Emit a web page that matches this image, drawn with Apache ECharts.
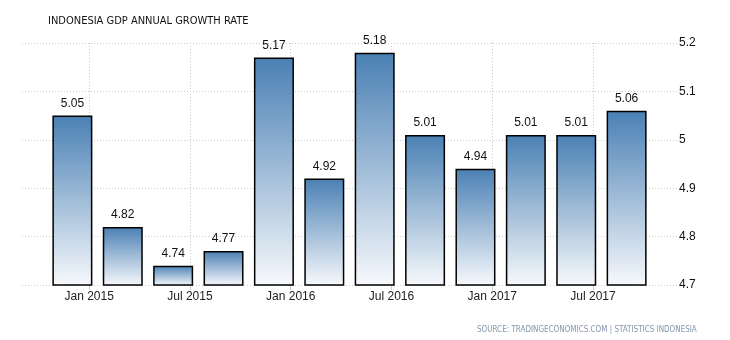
<!DOCTYPE html>
<html>
<head>
<meta charset="utf-8">
<script src="https://cdn.jsdelivr.net/npm/echarts@6/dist/echarts.min.js"></script>
<style>html,body{margin:0;padding:0;background:#fff;}#c{width:730px;height:340px;}</style>
</head>
<body>
<div id="c"></div>
<script>
const quarters = ['Q1 2015','Q2 2015','Q3 2015','Q4 2015','Q1 2016','Q2 2016','Q3 2016','Q4 2016','Q1 2017','Q2 2017','Q3 2017','Q4 2017'];
const values = [5.05, 4.82, 4.74, 4.77, 5.17, 4.92, 5.18, 5.01, 4.94, 5.01, 5.01, 5.06];
// month offset (relative to Jan 2015) at which each quarter's bar is plotted
const barMonths = [-1, 2, 5, 8, 11, 14, 17, 20, 23, 26, 29, 32];
const tickMonths = [0, 6, 12, 18, 24, 30];
const tickLabels = ['Jan 2015','Jul 2015','Jan 2016','Jul 2016','Jan 2017','Jul 2017'];

const chart = echarts.init(document.getElementById('c'), null, {renderer: 'canvas'});
const font = 'Liberation Sans';
chart.setOption({
  animation: false,
  backgroundColor: '#fff',
  title: [{
    text: 'INDONESIA GDP ANNUAL GROWTH RATE',
    left: 43, top: 11,
    textStyle: {fontFamily: 'DejaVu Sans Condensed', fontSize: 11, fontWeight: 'normal', color: '#111'}
  }, {
    text: 'SOURCE: TRADINGECONOMICS.COM | STATISTICS INDONESIA',
    left: 472, top: 321,
    textStyle: {fontFamily: 'DejaVu Sans Condensed', fontSize: 8, fontWeight: 'normal', color: '#8296ad'}
  }],
  grid: {left: 22, right: 53, top: 43, bottom: 55, containLabel: false},
  xAxis: {
    type: 'value', min: -4, max: 35,
    axisLine: {show: false},
    axisTick: {show: true, customValues: tickMonths, length: 5, lineStyle: {color: '#ccc'}},
    axisLabel: {
      customValues: tickMonths,
      formatter: v => tickLabels[tickMonths.indexOf(v)],
      fontFamily: font, fontSize: 12, color: '#222', margin: 6
    },
    splitLine: {show: true, lineStyle: {color: '#ccc', type: [1, 2]}}
  },
  yAxis: {
    type: 'value', position: 'right', min: 4.7, max: 5.2, interval: 0.1,
    axisLine: {show: false}, axisTick: {show: false},
    axisLabel: {
      formatter: v => String(Math.round(v * 10) / 10),
      fontFamily: font, fontSize: 12, color: '#111', margin: 2
    },
    splitLine: {show: true, lineStyle: {color: '#ccc', type: [1, 2]}}
  },
  series: [{
    type: 'bar',
    data: values.map((v, i) => ({value: [barMonths[i], v], name: quarters[i]})),
    barWidth: 40,
    itemStyle: {
      borderColor: '#000', borderWidth: 1.5,
      color: new echarts.graphic.LinearGradient(0, 0, 0, 1, [
        {offset: 0, color: '#4a80b4'},
        {offset: 1, color: '#f7f9fc'}
      ])
    },
    label: {
      show: true, position: 'top', distance: 6,
      formatter: p => p.value[1].toFixed(2),
      fontFamily: font, fontSize: 12, color: '#111'
    }
  }]
});
</script>
</body>
</html>
